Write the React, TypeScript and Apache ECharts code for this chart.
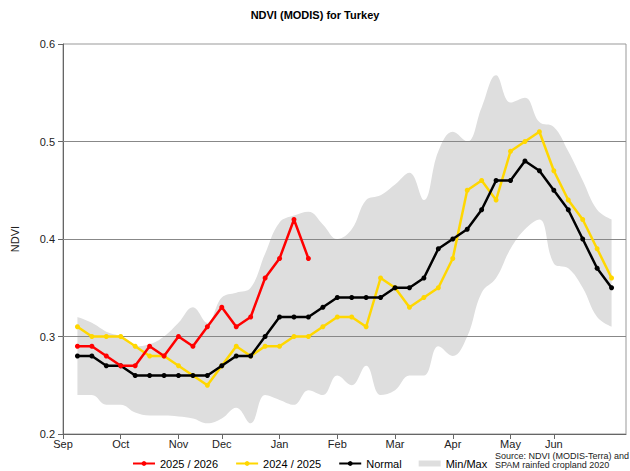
import React, { useEffect, useRef } from "react";
import * as echarts from "echarts";

// Dekad index 0..39 on the x axis; data points at indices 1..38
const monthLabels = ["Sep", "Oct", "Nov", "Dec", "Jan", "Feb", "Mar", "Apr", "May", "Jun"];
const monthTickIndex = [0, 4, 8, 11, 15, 19, 23, 27, 31, 34];
const dekadCount = 40;

const current2526 = [0.29, 0.29, 0.28, 0.27, 0.27, 0.29, 0.28, 0.30, 0.29, 0.31, 0.33, 0.31, 0.32, 0.36, 0.38, 0.42, 0.38];
const prev2425 = [0.31, 0.30, 0.30, 0.30, 0.29, 0.28, 0.28, 0.27, 0.26, 0.25, 0.27, 0.29, 0.28, 0.29, 0.29, 0.30, 0.30, 0.31, 0.32, 0.32, 0.31, 0.36, 0.35, 0.33, 0.34, 0.35, 0.38, 0.45, 0.46, 0.44, 0.49, 0.50, 0.51, 0.47, 0.44, 0.42, 0.39, 0.36];
const normal = [0.28, 0.28, 0.27, 0.27, 0.26, 0.26, 0.26, 0.26, 0.26, 0.26, 0.27, 0.28, 0.28, 0.30, 0.32, 0.32, 0.32, 0.33, 0.34, 0.34, 0.34, 0.34, 0.35, 0.35, 0.36, 0.39, 0.40, 0.41, 0.43, 0.46, 0.46, 0.48, 0.47, 0.45, 0.43, 0.40, 0.37, 0.35];
const minValues = [0.24, 0.24, 0.23, 0.23, 0.222, 0.219, 0.219, 0.218, 0.216, 0.211, 0.216, 0.227, 0.211, 0.24, 0.235, 0.23, 0.245, 0.24, 0.26, 0.25, 0.27, 0.24, 0.245, 0.26, 0.26, 0.29, 0.28, 0.30, 0.345, 0.36, 0.39, 0.41, 0.42, 0.375, 0.37, 0.35, 0.32, 0.31];
const maxValues = [0.32, 0.314, 0.305, 0.30, 0.29, 0.292, 0.30, 0.314, 0.33, 0.314, 0.34, 0.345, 0.35, 0.385, 0.417, 0.424, 0.428, 0.415, 0.40, 0.41, 0.44, 0.445, 0.456, 0.468, 0.44, 0.49, 0.51, 0.50, 0.535, 0.568, 0.54, 0.545, 0.52, 0.515, 0.49, 0.46, 0.43, 0.42];

const FONT = "'Liberation Sans', Arial, sans-serif";

function pad(arr: number[]): (number | null)[] {
  const out: (number | null)[] = [null];
  for (let i = 0; i < dekadCount - 1; i++) out.push(i < arr.length ? arr[i] : null);
  return out;
}

export default function App() {
  const ref = useRef<HTMLDivElement>(null);
  useEffect(() => {
    if (!ref.current) return;
    const chart = echarts.init(ref.current, null, { renderer: "svg" });
    const categories: string[] = [];
    for (let i = 0; i < dekadCount; i++) {
      const k = monthTickIndex.indexOf(i);
      categories.push(k >= 0 ? monthLabels[k] : "");
    }
    const diff = maxValues.map((v, i) => +(v - minValues[i]).toFixed(4));
    const lineCommon = {
      type: "line" as const,
      symbol: "circle",
      symbolSize: 5,
      showSymbol: true,
      connectNulls: false,
    };
    chart.setOption({
      animation: false,
      textStyle: { fontFamily: FONT },
      title: {
        text: "NDVI (MODIS) for Turkey",
        left: "center",
        top: 4,
        textStyle: { fontSize: 11, fontWeight: "bold", color: "#000", fontFamily: FONT },
      },
      grid: { left: 63, right: 4, top: 44, bottom: 37, show: true, borderColor: "#999", borderWidth: 1 },
      legend: {
        left: 132,
        top: 458,
        padding: 0,
        itemWidth: 22,
        itemHeight: 6,
        itemGap: 17,
        textStyle: { fontSize: 11, color: "#000", fontFamily: FONT },
        data: [
          { name: "2025 / 2026" },
          { name: "2024 / 2025" },
          { name: "Normal" },
          { name: "Min/Max", icon: "rect", itemStyle: { color: "#dedede" } },
        ],
      },
      xAxis: {
        type: "category",
        data: categories,
        boundaryGap: false,
        axisLine: { lineStyle: { color: "#666", width: 1 } },
        axisTick: {
          length: 5,
          lineStyle: { color: "#666" },
          interval: (idx: number) => monthTickIndex.indexOf(idx) >= 0,
        },
        axisLabel: {
          interval: 0,
          fontSize: 11,
          color: "#222",
          margin: 4,
          fontFamily: FONT,
        },
        splitLine: { show: false },
      },
      yAxis: {
        type: "value",
        min: 0.2,
        max: 0.6,
        interval: 0.1,
        name: "NDVI",
        nameLocation: "middle",
        nameGap: 43,
        nameTextStyle: { fontSize: 11, color: "#222", fontFamily: FONT },
        axisLine: { show: true, lineStyle: { color: "#666", width: 1 } },
        axisTick: { show: true, length: 5, lineStyle: { color: "#666" } },
        axisLabel: {
          fontSize: 11,
          color: "#222",
          margin: 8,
          fontFamily: FONT,
          formatter: (v: number) => v.toFixed(1),
        },
        splitLine: { show: false },
      },
      series: [
        {
          name: "minBase",
          type: "line",
          stack: "band",
          data: pad(minValues),
          smooth: 0.4,
          symbol: "none",
          lineStyle: { opacity: 0 },
          silent: true,
          z: 1,
        },
        {
          name: "Min/Max",
          type: "line",
          stack: "band",
          data: pad(diff),
          smooth: 0.4,
          symbol: "none",
          color: "#dedede",
          lineStyle: { opacity: 0 },
          areaStyle: { color: "#dedede", opacity: 1 },
          silent: true,
          z: 1,
          markLine: {
            silent: true,
            symbol: "none",
            label: { show: false },
            z: 3,
            lineStyle: { color: "#888", width: 1, type: "solid" },
            data: [{ yAxis: 0.3 }, { yAxis: 0.4 }, { yAxis: 0.5 }],
          },
        },
        {
          ...lineCommon,
          name: "2024 / 2025",
          data: pad(prev2425),
          color: "#ffd700",
          lineStyle: { color: "#ffd700", width: 2.5 },
          itemStyle: { color: "#ffd700" },
          z: 10,
        },
        {
          ...lineCommon,
          name: "Normal",
          data: pad(normal),
          color: "#000000",
          lineStyle: { color: "#000000", width: 2.5 },
          itemStyle: { color: "#000000" },
          z: 11,
        },
        {
          ...lineCommon,
          name: "2025 / 2026",
          data: pad(current2526),
          color: "#ff0000",
          lineStyle: { color: "#ff0000", width: 2.5 },
          itemStyle: { color: "#ff0000" },
          z: 12,
        },
      ],
      graphic: [
        {
          type: "text",
          right: 1,
          top: 451,
          style: {
            text: "Source: NDVI (MODIS-Terra) and\nSPAM rainfed cropland 2020",
            align: "right",
            fontSize: 9,
            lineHeight: 9,
            fontFamily: FONT,
            fill: "#222",
          },
        },
      ],
    });
    return () => chart.dispose();
  }, []);
  return (
    <div
      ref={ref}
      style={{ position: "fixed", left: 0, top: 0, width: 630, height: 471, background: "#fff" }}
    />
  );
}
